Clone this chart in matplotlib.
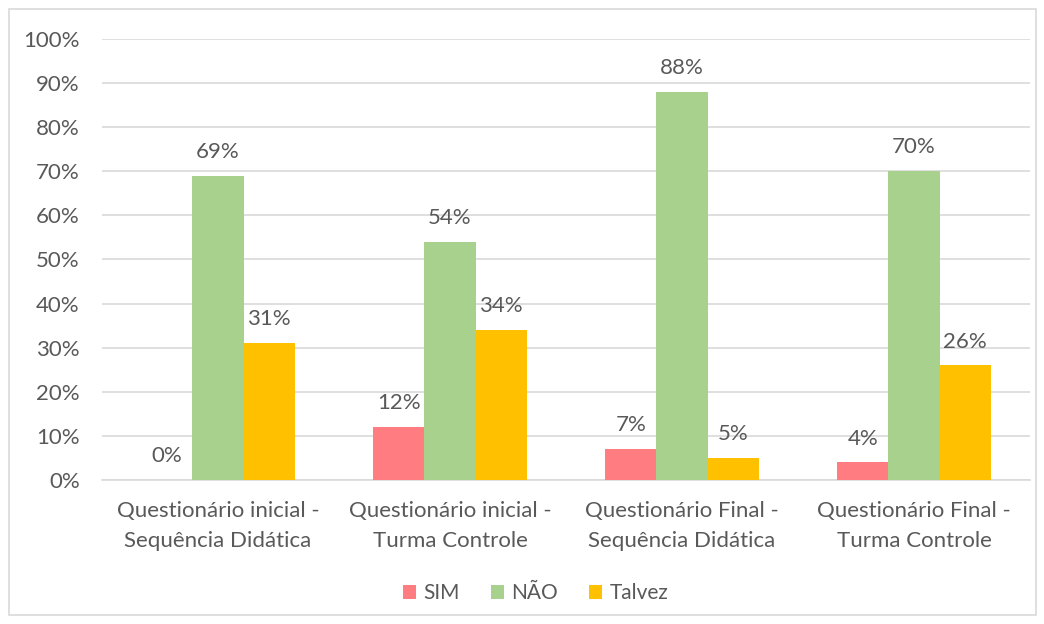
import numpy as np
import matplotlib.pyplot as plt

plt.rcParams['font.family'] = ['Lato', 'DejaVu Sans']

categories = ['Questionário inicial -\nSequência Didática',
              'Questionário inicial -\nTurma Controle',
              'Questionário Final -\nSequência Didática',
              'Questionário Final -\nTurma Controle']
series_names = ['SIM', 'NÃO', 'Talvez']
sim = [0, 12, 7, 4]
nao = [69, 54, 88, 70]
talvez = [31, 34, 5, 26]
colors = ['#FF7C80', '#A9D18E', '#FFC000']
yticks = [0, 10, 20, 30, 40, 50, 60, 70, 80, 90, 100]

txt = '#595959'
fs = 16

fig = plt.figure(figsize=(10.44, 6.24), dpi=100)
ax = fig.add_axes([0.0977, 0.2308, 0.8889, 0.7067])

# outer border like the office chart frame
fig.patches.append(plt.Rectangle((0.009, 0.014), 0.983, 0.972, transform=fig.transFigure,
                                 fill=False, edgecolor='#D9D9D9', linewidth=1.2))

x = np.arange(len(categories))
w = 0.22
for k, (vals, name, c) in enumerate(zip([sim, nao, talvez], series_names, colors)):
    pos = x + (k - 1) * w
    bars = ax.bar(pos, vals, width=w, color=c, label=name, zorder=3)
    for b, v in zip(bars, vals):
        ax.text(b.get_x() + b.get_width() / 2, v + 5.4, f'{v}%', ha='center', va='center',
                fontsize=fs, color=txt)

ax.set_xlim(-0.5, 3.5)
ax.set_ylim(0, 100)
ax.set_yticks(yticks)
ax.set_yticklabels([f'{t}%' for t in yticks], fontsize=fs, color=txt)
ax.set_xticks(x)
ax.set_xticklabels(categories, fontsize=fs, color=txt, linespacing=1.65)
ax.tick_params(axis='both', length=0)
ax.tick_params(axis='x', pad=15)
ax.tick_params(axis='y', pad=16)
ax.grid(axis='y', color='#D9D9D9', linewidth=1.2, zorder=0)
for s in ['top', 'right', 'left']:
    ax.spines[s].set_visible(False)
ax.spines['bottom'].set_color('#D9D9D9')
ax.spines['bottom'].set_linewidth(1.2)

fig.legend(loc='center', bbox_to_anchor=(0.513, 0.049), ncol=3, frameon=False,
           fontsize=15, labelcolor=txt, handlelength=0.62, handleheight=0.62,
           handletextpad=0.35, columnspacing=1.5)

fig.savefig('out.png', dpi=100)
